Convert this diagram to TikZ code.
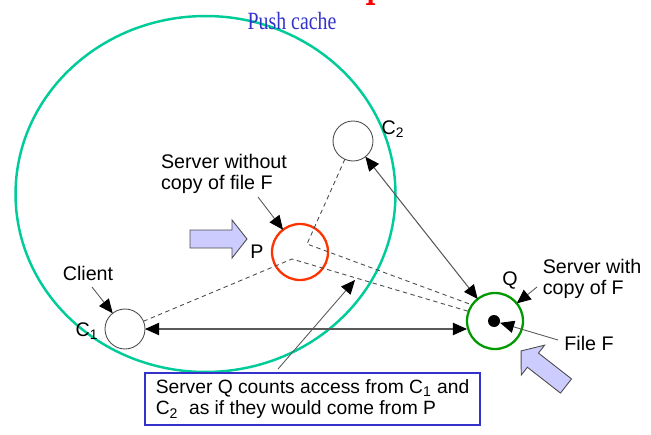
\documentclass[tikz,border=0pt]{standalone}
\usepackage{fontspec}
\setmainfont{Liberation Sans}
\newfontfamily\serifcap{Liberation Serif}
\usetikzlibrary{arrows.meta}

\definecolor{cachering}{RGB}{0,204,153}
\definecolor{pushblue}{RGB}{51,51,204}
\definecolor{pred}{RGB}{255,51,0}
\definecolor{qgreen}{RGB}{0,153,0}
\definecolor{lavender}{RGB}{204,204,255}

\newcommand{\figfont}{\fontsize{11.2}{12.4}\selectfont}
\newcommand{\notefont}{\fontsize{10.95}{12.4}\selectfont}

\tikzset{
  host/.style={circle, draw=black!70, line width=0.5pt, minimum size=0.8cm, inner sep=0pt, outer sep=0pt},
  server/.style={circle, line width=1.3pt, minimum size=1.12cm, inner sep=0pt, outer sep=0pt},
  link/.style={draw=black!65, line width=0.6pt, {Triangle[length=8pt,width=7pt,black]}-{Triangle[length=8pt,width=7pt,black]}},
  pointer/.style={draw=black!65, line width=0.5pt, -{Triangle[length=8pt,width=7pt,black]}},
  route/.style={draw=black!70, dash pattern=on 2.5pt off 2pt, line width=0.5pt},
  bigarrow/.style={draw=black!70, fill=lavender, line width=0.5pt, line join=miter},
  lbl/.style={font=\figfont, inner sep=0pt, align=left},
  notebox/.style={draw=pushblue, line width=1.2pt, font=\notefont, align=left, minimum width=6.7cm, minimum height=0.96cm, inner xsep=0pt}
}

\begin{document}
\begin{tikzpicture}[x=0.02cm, y=-0.02cm]
\useasboundingbox (0,0) rectangle (651,435);

% Zone du push cache
\draw[cachering, line width=1.4pt] (205.5,194) ellipse [x radius=3.8cm, y radius=3.56cm];
\node[font=\serifcap\fontsize{11.3}{13}\selectfont, text=pushblue, yscale=1.25] (title) at (292,21) {Push cache};

% bout du titre (coupe)
\fill[red] (366,5) -- (375,5) -- (375,3.6) -- (372.5,3) -- (372.5,0) -- (368.5,0) -- (368.5,3) -- (366,3.6) -- cycle;

% Clients et serveurs
\node[host] (c2) at (353,141) {};
\node[host] (c1) at (125,329) {};
\node[server, draw=pred] (p) at (300,252) {};
\node[server, draw=qgreen] (q) at (495,321) {};
\node[circle, fill=black, minimum size=0.24cm, inner sep=0pt] (filef) at (494,321) {};

% Points de passage
\coordinate (pa) at (292,259);
\coordinate (pb) at (307,244);
\coordinate (hit) at (355,280);
\coordinate (tclient) at (92,287);
\coordinate (tnocopy) at (258,197);
\coordinate (tcopy) at (537,287);
\coordinate (tfile) at (558,340);
\coordinate (tnote) at (278,369);

% Chemins vus par Q (pointilles)
\draw[route] (c1) -- (pa) -- (q.160);
\draw[route] (c2) -- (pb) -- (q.145);

% Acces reels
\draw[link] (c1.east) -- (c1.east -| q.west);
\draw[link] (c2) -- (q);

% Etiquettes
\node[lbl] (lc1) at (87,331) {C\textsubscript{1}};
\node[lbl] (lc2) at (393,129) {C\textsubscript{2}};
\node[lbl] (lp) at (257,252) {P};
\node[lbl] (lq) at (510,280) {Q};
\node[lbl] (lclient) at (88,273) {Client};
\node[lbl] (lnocopy) at (224,174) {Server without\\copy of file F};
\node[lbl] (lcopy) at (592,279) {Server with\\copy of F};
\node[lbl] (lfile) at (589,343) {File F};

% Fleches vers les objets
\draw[pointer] (tclient) -- (c1);
\draw[pointer] (tnocopy) -- (p);
\draw[pointer] (tcopy) -- (q);
\draw[pointer] (tfile) -- (filef);

% Remarque
\node[notebox] (note) at (312.5,399) {Server Q counts access from C\textsubscript{1} and\\C\textsubscript{2}\ \ as if they would come from P};
\draw[pointer] (tnote) -- (hit);

% Grosses fleches (queue a l'origine, pointe vers x positif)
\draw[bigarrow, shift={(190,239)}] (0,-9) -- (42,-9) -- (42,-19) -- (57,0) -- (42,19) -- (42,9) -- (0,9) -- cycle;
\draw[bigarrow, shift={(566,386)}, rotate=142] (0,-9) -- (42,-9) -- (42,-19) -- (57,0) -- (42,19) -- (42,9) -- (0,9) -- cycle;

\end{tikzpicture}
\end{document}
